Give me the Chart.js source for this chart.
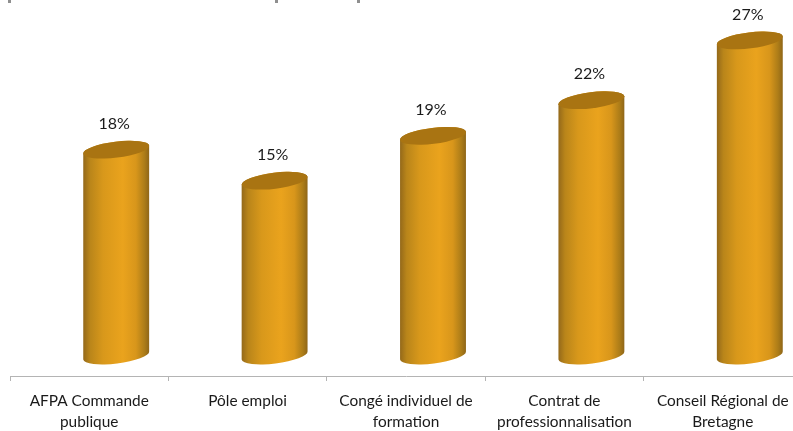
<!DOCTYPE html>
<html>
<head>
<meta charset="utf-8">
<script src="https://cdn.jsdelivr.net/npm/chart.js@4"></script>
<style>
  html, body { margin: 0; padding: 0; background: #fff; overflow: hidden; width: 793px; height: 431px; }
  #wrap { position: relative; width: 812px; height: 431px; }
</style>
</head>
<body>
<div id="wrap"><canvas id="chart"></canvas></div>
<script>
const categories = [
  ["AFPA Commande", "publique"],
  ["Pôle emploi"],
  ["Congé individuel de", "formation"],
  ["Contrat de", "professionnalisation"],
  ["Conseil Régional de", "Bretagne"],
];
// bar heights, the labels show them rounded
const percents = [17.9, 15.2, 19.1, 22.2, 27.4];
const axisMax = 30;

const FONT = "Lato, 'Open Sans', sans-serif";
const SHIFT_X = 27, SHIFT_Y = -20.5; // the 3D bars sit off the axis band
const TILT = -7 * Math.PI / 180;

// cylinders and % labels, positions come from the bar elements
const cylinders = {
  id: "cylinders",
  afterDatasetsDraw(chart) {
    const ctx = chart.ctx;
    chart.getDatasetMeta(0).data.forEach((bar, i) => {
      const cx = bar.x + SHIFT_X;
      const top = bar.y + SHIFT_Y;
      const base = bar.base + SHIFT_Y;
      const a = bar.width / 2 / Math.cos(TILT);
      const b = 8;

      const grad = ctx.createLinearGradient(cx - bar.width / 2, 0, cx + bar.width / 2, 0);
      grad.addColorStop(0, "#94691a");
      grad.addColorStop(0.1, "#b9851a");
      grad.addColorStop(0.3, "#d8981b");
      grad.addColorStop(0.6, "#eaa31d");
      grad.addColorStop(0.8, "#d8961b");
      grad.addColorStop(0.93, "#ac7c18");
      grad.addColorStop(1, "#8f6618");

      ctx.save();
      ctx.beginPath();
      ctx.ellipse(cx, base, a, b, TILT, Math.PI, 0, true);
      ctx.ellipse(cx, top, a, b, TILT, 0, Math.PI, true);
      ctx.closePath();
      ctx.fillStyle = grad;
      ctx.fill();

      ctx.beginPath();
      ctx.ellipse(cx, top, a, b, TILT, 0, Math.PI * 2);
      ctx.fillStyle = "#a97412";
      ctx.fill();

      ctx.fillStyle = "#1a1a1a";
      ctx.font = "16px " + FONT;
      ctx.textAlign = "center";
      ctx.textBaseline = "middle";
      ctx.fillText(Math.round(percents[i]) + "%", cx - 2, top - 26);
      ctx.restore();
    });

    // ends of the cut-off title at the top edge
    ctx.save();
    ctx.fillStyle = "#8f8f8f";
    [8, 275, 357].forEach((x) => ctx.fillRect(x, 0, 3, 3));
    ctx.restore();
  },
};

new Chart(document.getElementById("chart"), {
  type: "bar",
  data: {
    labels: categories,
    datasets: [
      {
        data: percents,
        backgroundColor: "transparent",
        barPercentage: 0.416,
        categoryPercentage: 1,
      },
    ],
  },
  options: {
    responsive: true,
    maintainAspectRatio: false,
    animation: false,
    layout: { padding: { left: 10, right: 10, top: 31, bottom: 0 } },
    plugins: { legend: { display: false }, tooltip: { enabled: false } },
    scales: {
      x: {
        afterFit: (axis) => { axis.height = 55; },
        border: { color: "#b4b4b4" },
        grid: { drawOnChartArea: false, color: "#b4b4b4", tickLength: 5 },
        ticks: {
          color: "#1a1a1a",
          font: { family: FONT, size: 15.4, lineHeight: 1.36 },
          padding: 10,
          maxRotation: 0,
          autoSkip: false,
        },
      },
      y: { display: false, min: 0, max: axisMax },
    },
  },
  plugins: [cylinders],
});
</script>
</body>
</html>
